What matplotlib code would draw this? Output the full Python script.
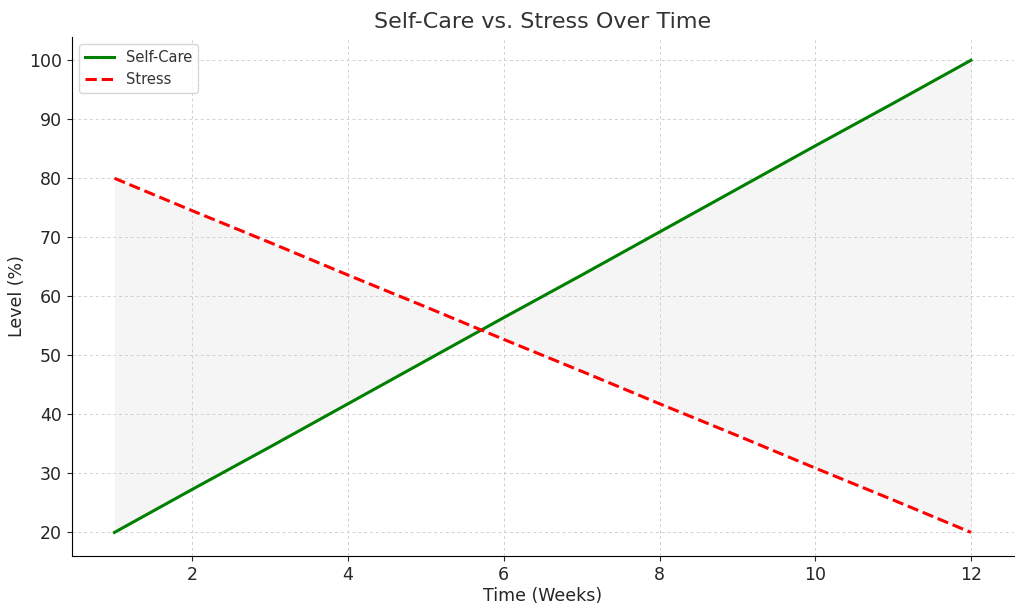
import matplotlib
matplotlib.use("Agg")
import matplotlib.pyplot as plt

# weeks and levels
weeks = [1, 2, 3, 4, 5, 6, 7, 8, 9, 10, 11, 12]
self_care = [20, 27.3, 34.5, 41.8, 49.1, 56.4, 63.6, 70.9, 78.2, 85.5, 92.7, 100]
stress = [80, 74.5, 69.1, 63.6, 58.2, 52.7, 47.3, 41.8, 36.4, 30.9, 25.5, 20]

fig, ax = plt.subplots(figsize=(10.24, 6.11), dpi=100)

ax.plot(weeks, self_care, color="green", linewidth=2.2, label="Self-Care")
ax.plot(weeks, stress, color="red", linewidth=2.2, linestyle="--", label="Stress")
ax.fill_between(weeks, self_care, stress, color="gray", alpha=0.08, linewidth=0)

ax.set_title("Self-Care vs. Stress Over Time", fontsize=16, color="#333333")
ax.set_xlabel("Time (Weeks)", fontsize=12.5, color="#262626", labelpad=2)
ax.set_ylabel("Level (%)", fontsize=12.5, color="#262626", labelpad=2)
ax.tick_params(labelsize=12.5, colors="#262626")
ax.grid(True, linestyle=(0, (3, 3)), color="#d0d0d0", linewidth=0.7)
ax.spines["top"].set_visible(False)
ax.spines["right"].set_visible(False)
ax.legend(loc="upper left", fontsize=10.5, labelcolor="#333333")

plt.subplots_adjust(left=0.07, right=0.99, top=0.94, bottom=0.09)
plt.savefig("out.png", dpi=100)
